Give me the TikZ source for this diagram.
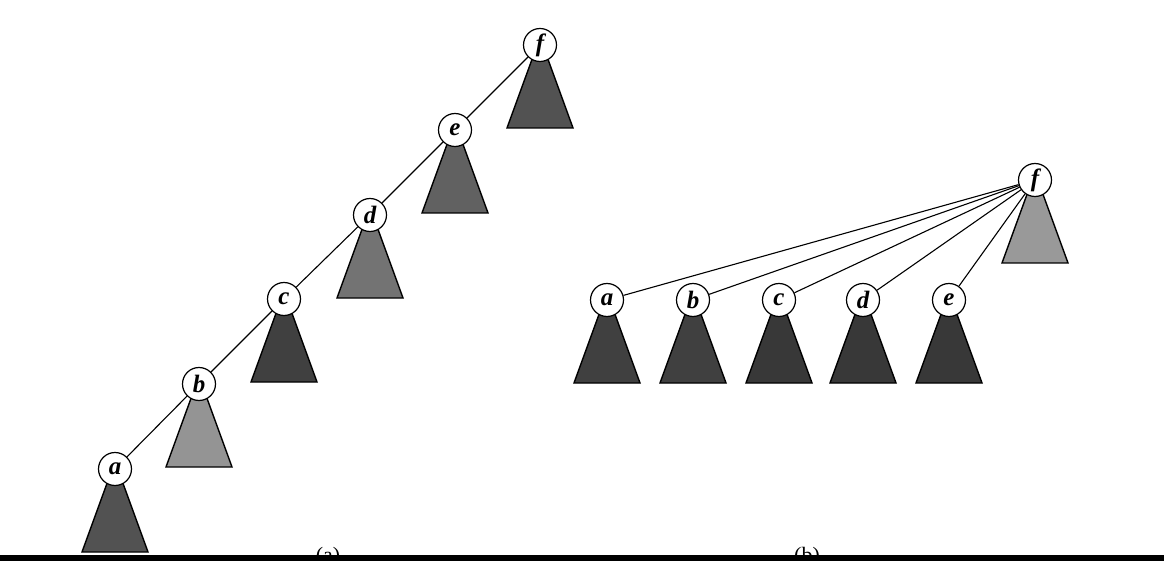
\documentclass[tikz,border=0pt]{standalone}
\usepackage{fontspec}
\setmainfont{Liberation Serif}
\begin{document}
\begin{tikzpicture}[x=1pt,y=-1pt,
  vtx/.style={circle,draw,line width=1.2pt,fill=white,minimum size=33pt,inner sep=0pt,
    font=\fontsize{25}{27}\selectfont\bfseries\itshape},
  edge/.style={line width=1.1pt},
  lbl/.style={font=\fontsize{22}{24}\selectfont},
]
\useasboundingbox (0,0) rectangle (1164,561);
\fill[white] (0,0) rectangle (1164,561);
\tikzset{sub/.pic={\path[draw=black,line width=1.4pt,fill=\tikzpictext]
  (-7.5,13) -- (7.5,13) -- (33,83) -- (-33,83) -- cycle;}}
% (a)
\path (540,45) pic[pic text=black!68] {sub};
\path (455,130) pic[pic text=black!62] {sub};
\path (370,215) pic[pic text=black!55] {sub};
\path (284,299) pic[pic text=black!75] {sub};
\path (199,384) pic[pic text=black!42] {sub};
\path (115,469) pic[pic text=black!68] {sub};
\node[vtx] (af) at (540,45) {f};
\node[vtx] (ae) at (455,130) {e};
\node[vtx] (ad) at (370,215) {d};
\node[vtx] (ac) at (284,299) {c};
\node[vtx] (ab) at (199,384) {b};
\node[vtx] (aa) at (115,469) {a};
\draw[edge] (af) -- (ae);
\draw[edge] (ae) -- (ad);
\draw[edge] (ad) -- (ac);
\draw[edge] (ac) -- (ab);
\draw[edge] (ab) -- (aa);
% (b)
\path (1035,180) pic[pic text=black!40] {sub};
\path (607,300) pic[pic text=black!75] {sub};
\path (693,300) pic[pic text=black!75] {sub};
\path (779,300) pic[pic text=black!78] {sub};
\path (863,300) pic[pic text=black!78] {sub};
\path (949,300) pic[pic text=black!78] {sub};
\node[vtx] (bf) at (1035,180) {f};
\node[vtx] (ba) at (607,300) {a};
\node[vtx] (bb) at (693,300) {b};
\node[vtx] (bc) at (779,300) {c};
\node[vtx] (bd) at (863,300) {d};
\node[vtx] (be) at (949,300) {e};
\draw[edge] (bf) -- (ba);
\draw[edge] (bf) -- (bb);
\draw[edge] (bf) -- (bc);
\draw[edge] (bf) -- (bd);
\draw[edge] (bf) -- (be);
% captions (cut by bar)
\node[lbl] (capa) at (328,557) {(a)};
\node[lbl] (capb) at (807,557) {(b)};
\fill[black] (0,555) rectangle (1164,561);
\end{tikzpicture}
\end{document}
